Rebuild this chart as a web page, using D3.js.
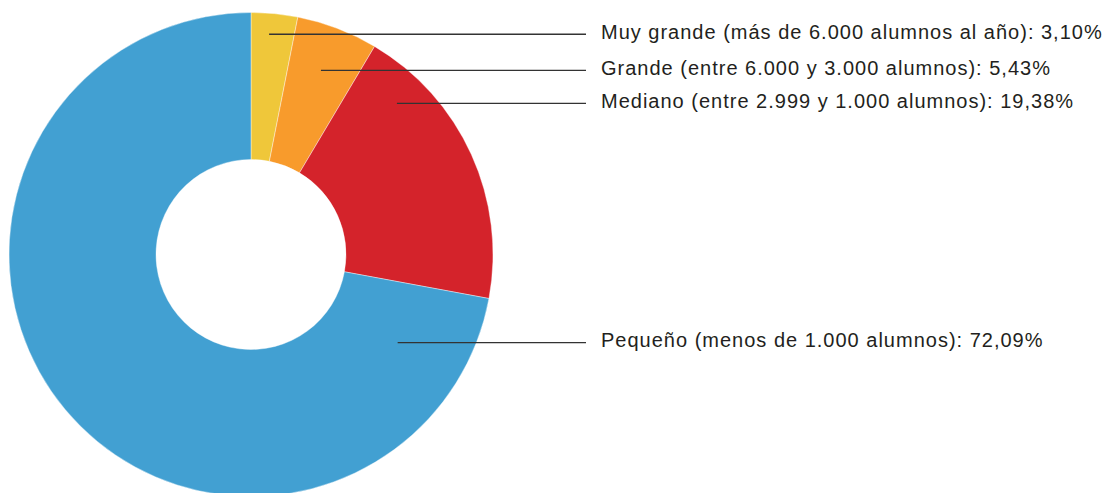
<!DOCTYPE html>
<html>
<head>
<meta charset="utf-8">
<script src="https://cdn.jsdelivr.net/npm/d3@7"></script>
<style>
  body { margin: 0; background: #fff; }
  text { font-family: "Liberation Sans", Arial, sans-serif; fill: #231f20; }
</style>
</head>
<body>
<div id="chart"></div>
<script>
var categories = [
  "Muy grande (más de 6.000 alumnos al año)",
  "Grande (entre 6.000 y 3.000 alumnos)",
  "Mediano (entre 2.999 y 1.000 alumnos)",
  "Pequeño (menos de 1.000 alumnos)"
];
var values = [3.10, 5.43, 19.38, 72.09];
var colors = ["#efc73a", "#f89b2c", "#d4232b", "#42a0d2"];
// where each leader line starts: angle in degrees (clockwise from top), radius as share of outer radius
var anchorAngle = [4.7, 20.8, 44, 121];
var anchorRadius = [0.913, 0.814, 0.868, 0.707];

var width = 1111, height = 493;
var cx = 251, cy = 254.5, outerR = 242, innerR = 95;

var svg = d3.select("#chart").append("svg")
  .attr("width", width)
  .attr("height", height);

var data = categories.map(function (c, i) { return { name: c, value: values[i], color: colors[i] }; });

var pie = d3.pie().sort(null).value(function (d) { return d.value; });
var arc = d3.arc().innerRadius(innerR).outerRadius(outerR);

var g = svg.append("g").attr("transform", "translate(" + cx + "," + cy + ")");

g.selectAll("path")
  .data(pie(data))
  .enter()
  .append("path")
    .attr("d", arc)
    .attr("fill", function (d) { return d.data.color; })
    .attr("stroke", "#fff")
    .attr("stroke-width", 0.4);

// leader lines + labels
var lineEnd = 586, textX = 601;
var fmt = function (v) { return v.toFixed(2).replace(".", ","); };

data.forEach(function (d, i) {
  var a = anchorAngle[i] * Math.PI / 180;
  var r = anchorRadius[i] * outerR;
  var x0 = cx + r * Math.sin(a);
  var y0 = cy - r * Math.cos(a);

  svg.append("line")
    .attr("x1", x0).attr("y1", y0)
    .attr("x2", lineEnd).attr("y2", y0)
    .attr("stroke", "#333")
    .attr("stroke-width", 1.4);

  svg.append("text")
    .attr("x", textX)
    .attr("y", y0 + 4.5)
    .style("font-size", "20px")
    .style("letter-spacing", "1px")
    .text(d.name + ": " + fmt(d.value) + "%");
});
</script>
</body>
</html>
